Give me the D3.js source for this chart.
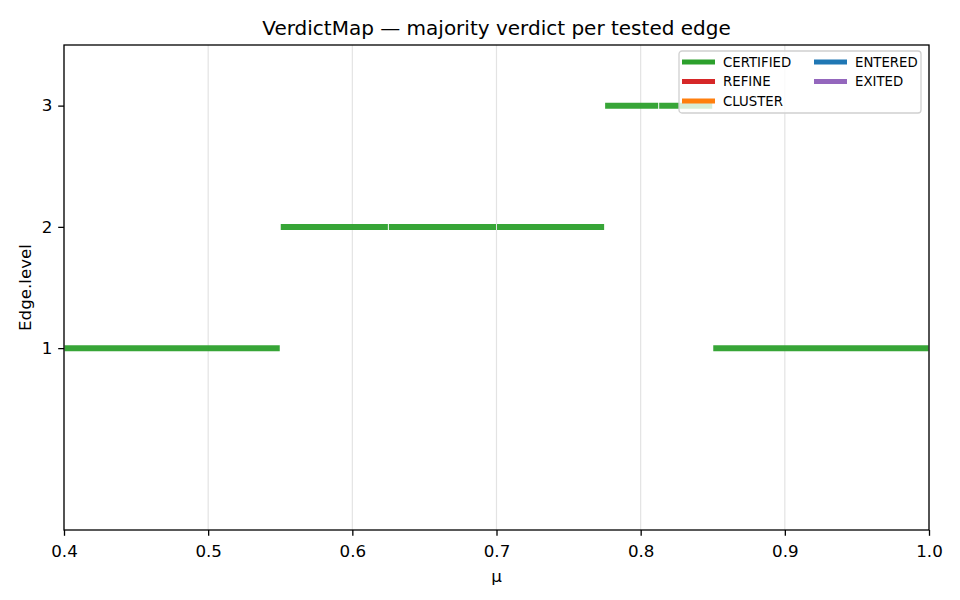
<!DOCTYPE html>
<html>
<head>
<meta charset="utf-8">
<script src="https://cdn.jsdelivr.net/npm/d3@7"></script>
<style>
  body { margin: 0; background: #fff; }
  svg text { font-family: "DejaVu Sans", sans-serif; fill: #000; }
</style>
</head>
<body>
<svg id="chart" width="960" height="600"></svg>
<script>
// verdict segments: start mu, end mu, edge level, verdict
var segStart = [0.4, 0.55, 0.625, 0.7, 0.775, 0.8125, 0.85];
var segEnd   = [0.55, 0.625, 0.7, 0.775, 0.8125, 0.85, 1.0];
var segLevel = [1, 2, 2, 2, 3, 3, 1];
var segVerdict = ["CERTIFIED", "CERTIFIED", "CERTIFIED", "CERTIFIED", "CERTIFIED", "CERTIFIED", "CERTIFIED"];

var verdicts = ["CERTIFIED", "REFINE", "CLUSTER", "ENTERED", "EXITED"];
var verdictColors = ["#2ca02c", "#d62728", "#ff7f0e", "#1f77b4", "#9467bd"];

var xTicks = [0.4, 0.5, 0.6, 0.7, 0.8, 0.9, 1.0];
var yTicks = [1, 2, 3];

var margin = {top: 45, right: 31, bottom: 70, left: 64};
var width = 960 - margin.left - margin.right,
    height = 600 - margin.top - margin.bottom;

var svg = d3.select("#chart");
var g = svg.append("g").attr("transform", "translate(" + margin.left + "," + margin.top + ")");

var x = d3.scaleLinear().domain([0.4, 1.0]).range([0, width]);
var y = d3.scaleLinear().domain([-0.5, 3.5]).range([height, 0]);
var color = d3.scaleOrdinal().domain(verdicts).range(verdictColors);

var data = segStart.map(function(d, i){
  return {x0: d, x1: segEnd[i], level: segLevel[i], verdict: segVerdict[i]};
});

// grid
g.append("g")
  .selectAll("line")
  .data(xTicks)
  .enter().append("line")
  .attr("x1", function(d){ return x(d); })
  .attr("x2", function(d){ return x(d); })
  .attr("y1", 0)
  .attr("y2", height)
  .attr("stroke", "#e3e3e3")
  .attr("stroke-width", 1.2);

// segments
g.append("g")
  .selectAll("line")
  .data(data)
  .enter().append("line")
  .attr("x1", function(d){ return x(d.x0) + 0.5; })
  .attr("x2", function(d){ return x(d.x1) - 0.5; })
  .attr("y1", function(d){ return y(d.level); })
  .attr("y2", function(d){ return y(d.level); })
  .attr("stroke", function(d){ return color(d.verdict); })
  .attr("stroke-width", 6)
  .attr("stroke-opacity", 0.95);

// axes
var xAxis = d3.axisBottom(x).tickValues(xTicks).tickSize(5.8).tickPadding(5.8)
  .tickFormat(d3.format(".1f"));
var yAxis = d3.axisLeft(y).tickValues(yTicks).tickSize(5.8).tickPadding(5.8)
  .tickFormat(d3.format("d"));

function styleAxis(a){
  a.select(".domain").remove();
  a.selectAll("line").attr("stroke", "#000").attr("stroke-width", 1.3);
  a.selectAll("text")
    .style("font-family", "DejaVu Sans")
    .style("font-size", "16.7px")
    .attr("fill", "#000");
}

g.append("g")
  .attr("transform", "translate(0," + height + ")")
  .call(xAxis)
  .call(styleAxis)
  .call(function(a){ a.selectAll("text").attr("dy", "0.93em"); });

g.append("g")
  .call(yAxis)
  .call(styleAxis);

// frame
g.append("rect")
  .attr("width", width)
  .attr("height", height)
  .attr("fill", "none")
  .attr("stroke", "#000")
  .attr("stroke-width", 1.3);

// labels
svg.append("text")
  .attr("x", margin.left + width / 2)
  .attr("y", 35)
  .attr("text-anchor", "middle")
  .style("font-size", "20px")
  .text("VerdictMap — majority verdict per tested edge");

svg.append("text")
  .attr("x", margin.left + width / 2)
  .attr("y", 582)
  .attr("text-anchor", "middle")
  .style("font-size", "16.7px")
  .text("μ");

svg.append("text")
  .attr("transform", "translate(31," + (margin.top + height / 2) + ") rotate(-90)")
  .attr("text-anchor", "middle")
  .style("font-size", "16.7px")
  .text("Edge.level");

// legend
var legend = g.append("g").attr("transform", "translate(" + (width - 250) + ",6)");
legend.append("rect")
  .attr("width", 242)
  .attr("height", 62)
  .attr("rx", 3)
  .attr("fill", "#fff")
  .attr("fill-opacity", 0.8)
  .attr("stroke", "#d0d0d0")
  .attr("stroke-width", 1.3);

var item = legend.selectAll(".item")
  .data(verdicts)
  .enter().append("g")
  .attr("class", "item")
  .attr("transform", function(d, i){
    var col = i < 3 ? 0 : 1, row = i < 3 ? i : i - 3;
    return "translate(" + (3 + col * 132) + "," + (11 + row * 19.5) + ")";
  });

item.append("line")
  .attr("x1", 0).attr("x2", 33)
  .attr("stroke", function(d){ return color(d); })
  .attr("stroke-width", 5);

item.append("text")
  .attr("x", 41)
  .attr("dy", "0.35em")
  .style("font-size", "13.3px")
  .text(function(d){ return d; });
</script>
</body>
</html>
